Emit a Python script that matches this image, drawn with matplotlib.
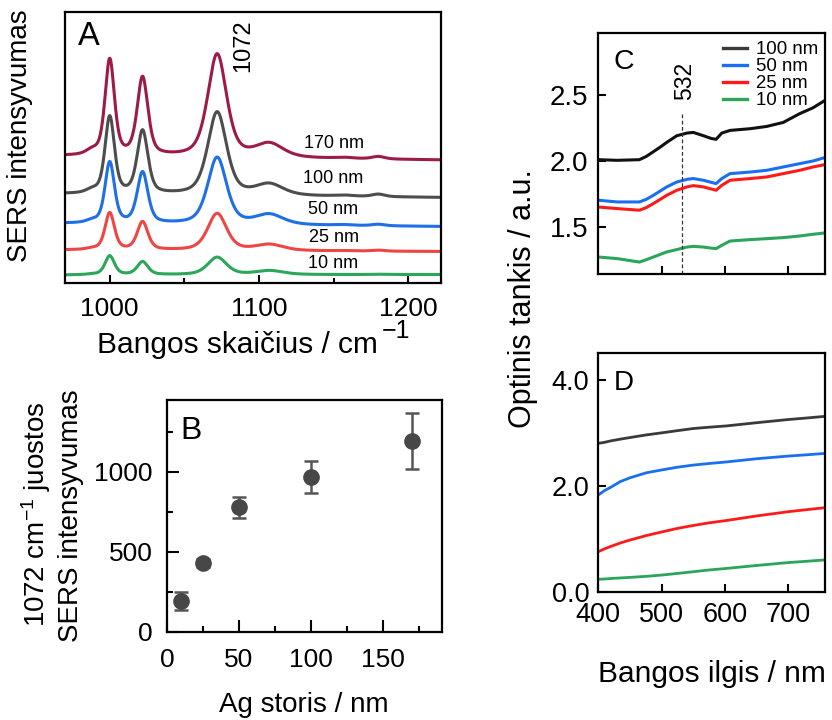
import numpy as np
import matplotlib
matplotlib.use("Agg")
import matplotlib.pyplot as plt
from matplotlib.ticker import MultipleLocator, FormatStrFormatter

plt.rcParams['font.family'] = ['Liberation Sans', 'DejaVu Sans']
plt.rcParams['mathtext.default'] = 'regular'

# ---------------- A: SERS spectra ----------------
thickness_labels = ["10 nm", "25 nm", "50 nm", "100 nm", "170 nm"]
spectra_colors = ["#2ca65a", "#f04545", "#1f6fe6", "#4d4d4d", "#9e1a48"]
# Raman bands (cm-1) and their widths (FWHM, cm-1)
band_centers = [988, 1000, 1022, 1072, 1107, 1157, 1180]
band_fwhm = [9, 7.5, 8.5, 15, 22, 14, 10]
# band heights above baseline for each film thickness (arb. units)
heights_10 = [0.5, 19, 13, 17.5, 4, 0.0, 0.3]
heights_25 = [1.0, 37, 28, 37, 6, 0.3, 1.0]
heights_50 = [2.0, 61, 51, 67, 10, 0.7, 1.5]
heights_100 = [3.0, 77, 63, 83, 11, 1.0, 2.5]
heights_170 = [4.0, 96, 78, 103, 13.5, 1.0, 2.5]
# stacked baselines (left end, right end)
baseline_left = [8, 33, 59.5, 89, 127]
baseline_right = [8.5, 31.5, 56.5, 85.5, 123]
label_y = [20, 46, 74, 105, 140]

# ---------------- B: 1072 band intensity ----------------
ag_thickness = [10, 25, 50, 100, 170]
band_intensity = [194, 427, 777, 969, 1194]
band_error = [57, 25, 65, 100, 175]

# ---------------- C: extinction, narrow range ----------------
wl_c = [400, 430, 465, 476, 487, 498, 508, 524, 540, 550, 566, 578, 586, 595, 608, 640, 666, 692, 718, 739, 758]
c_100 = [2.01, 2.005, 2.01, 2.035, 2.07, 2.105, 2.14, 2.19, 2.21, 2.215, 2.19, 2.17, 2.163, 2.21, 2.23, 2.243, 2.26, 2.29, 2.356, 2.40, 2.456]
c_50 = [1.705, 1.692, 1.692, 1.712, 1.742, 1.775, 1.805, 1.842, 1.862, 1.868, 1.855, 1.84, 1.83, 1.868, 1.905, 1.917, 1.93, 1.955, 1.98, 2.0, 2.026]
c_25 = [1.654, 1.642, 1.63, 1.65, 1.68, 1.712, 1.742, 1.78, 1.805, 1.815, 1.805, 1.79, 1.78, 1.817, 1.855, 1.868, 1.88, 1.905, 1.93, 1.955, 1.973]
c_10 = [1.278, 1.266, 1.24, 1.258, 1.278, 1.298, 1.316, 1.334, 1.353, 1.358, 1.353, 1.345, 1.341, 1.366, 1.398, 1.409, 1.416, 1.424, 1.436, 1.449, 1.459]

# ---------------- D: extinction, full scale ----------------
wl_d = [400, 410, 421, 435, 450, 476, 501, 525, 550, 575, 603, 650, 700, 730, 758]
d_100 = [2.80, 2.82, 2.85, 2.88, 2.91, 2.96, 3.00, 3.04, 3.08, 3.105, 3.13, 3.19, 3.25, 3.28, 3.31]
d_50 = [1.825, 1.91, 1.98, 2.08, 2.15, 2.245, 2.30, 2.35, 2.39, 2.42, 2.45, 2.51, 2.56, 2.585, 2.61]
d_25 = [0.755, 0.81, 0.86, 0.92, 0.975, 1.06, 1.13, 1.195, 1.25, 1.30, 1.345, 1.43, 1.51, 1.55, 1.585]
d_10 = [0.234, 0.24, 0.25, 0.26, 0.27, 0.29, 0.315, 0.345, 0.377, 0.41, 0.44, 0.495, 0.55, 0.575, 0.60]

series_labels = ["100 nm", "50 nm", "25 nm", "10 nm"]
c_colors = ["#111111", "#1a6ff0", "#ff1a1a", "#2aa55a"]
d_colors = ["#3a3a3a", "#1a6ff0", "#ff1a1a", "#2aa55a"]

fig = plt.figure(figsize=(8.32, 7.2), dpi=100)
axA = fig.add_axes([0.0781, 0.6069, 0.4519, 0.3764])
axB = fig.add_axes([0.2007, 0.1226, 0.3302, 0.3218])
axC = fig.add_axes([0.7191, 0.6194, 0.2725, 0.3343])
axD = fig.add_axes([0.7191, 0.1782, 0.2725, 0.3311])

for ax in (axA, axB, axC, axD):
    for s in ax.spines.values():
        s.set_linewidth(1.6)


def band_profile(x, center, fwhm, height, eta=0.5):
    g = np.exp(-4 * np.log(2) * ((x - center) / fwhm) ** 2)
    l = 1.0 / (1.0 + 4 * ((x - center) / fwhm) ** 2)
    return height * (eta * l + (1 - eta) * g)


wn = np.linspace(970, 1222, 1500)
all_heights = [heights_10, heights_25, heights_50, heights_100, heights_170]
for i, hts in enumerate(all_heights):
    base = baseline_left[i] + (baseline_right[i] - baseline_left[i]) * (wn - wn[0]) / (wn[-1] - wn[0])
    y = base.copy()
    for c, w, h in zip(band_centers, band_fwhm, hts):
        y += band_profile(wn, c, w, h)
    axA.plot(wn, y, color=spectra_colors[i], lw=2.2)
    axA.text(1150, label_y[i], thickness_labels[i], ha='center', va='center', fontsize=13)

axA.set_xlim(970, 1222)
axA.set_ylim(0, 271)
axA.set_yticks([])
axA.xaxis.set_major_locator(MultipleLocator(100))
axA.xaxis.set_minor_locator(MultipleLocator(50))
axA.tick_params(axis='x', which='major', direction='in', length=6, width=1.5, labelsize=19, pad=10)
axA.tick_params(axis='x', which='minor', direction='in', length=3.5, width=1.5)
axA.text(1089.5, 237, '1072', rotation=90, ha='center', va='center', fontsize=17)
axA.text(0.035, 0.878, 'A', transform=axA.transAxes, fontsize=23.5, ha='left', va='baseline')

fig.text(0.2855, 0.5097, 'Bangos skaičius / cm', ha='center', va='baseline', fontsize=21.5)
fig.text(0.4591, 0.5306, '\u22121', ha='left', va='baseline', fontsize=18)
fig.text(0.0319, 0.811, 'SERS intensyvumas', rotation=90, rotation_mode='anchor',
         ha='center', va='baseline', fontsize=20)

# ---------------- B ----------------
axB.errorbar(ag_thickness, band_intensity, yerr=band_error, fmt='o', ms=11,
             color='#474747', ecolor='#555555', elinewidth=1.8, capsize=5, capthick=1.8)
axB.set_xlim(0, 191)
axB.set_ylim(0, 1448)
axB.xaxis.set_major_locator(MultipleLocator(50))
axB.xaxis.set_minor_locator(MultipleLocator(25))
axB.yaxis.set_major_locator(MultipleLocator(500))
axB.yaxis.set_minor_locator(MultipleLocator(250))
axB.tick_params(axis='both', which='major', direction='in', length=8.5, width=1.5, labelsize=19)
axB.tick_params(axis='both', which='minor', direction='in', length=4.5, width=1.5)
axB.tick_params(axis='x', which='major', pad=12)
axB.tick_params(axis='y', which='major', pad=10.5)
axB.text(0.047, 0.832, 'B', transform=axB.transAxes, fontsize=23, ha='left', va='baseline')

fig.text(0.3646, 0.0115, 'Ag storis / nm', ha='center', va='baseline', fontsize=20)
fig.text(0.0541, 0.2861, '1072 cm$^{-1}$ juostos', rotation=90, rotation_mode='anchor',
         ha='center', va='baseline', fontsize=20)
fig.text(0.0938, 0.2833, 'SERS intensyvumas', rotation=90, rotation_mode='anchor',
         ha='center', va='baseline', fontsize=20)

# ---------------- C ----------------
for vals, col in zip([c_100, c_50, c_25, c_10], c_colors):
    axC.plot(wl_c, vals, color=col, lw=2.2, solid_joinstyle='round')
axC.plot([532, 532], [1.15, 2.37], color='#333333', lw=0.9, ls=(0, (3, 2)))
axC.text(537, 2.60, '532', rotation=90, ha='center', va='center', fontsize=16.5)
axC.set_xlim(400, 758)
axC.set_ylim(1.15, 2.96)
axC.set_xticks([500, 600, 700])
axC.set_yticks([1.5, 2.0, 2.5])
axC.yaxis.set_major_formatter(FormatStrFormatter('%.1f'))
axC.tick_params(axis='x', direction='in', length=5.5, width=1.5, labelbottom=False)
axC.tick_params(axis='y', direction='in', length=5.5, width=1.5, labelsize=20, pad=7)
axC.text(0.069, 0.850, 'C', transform=axC.transAxes, fontsize=20.5, ha='left', va='baseline')

# ---------------- D ----------------
d_lines = []
for vals, col, lab in zip([d_100, d_50, d_25, d_10], d_colors, series_labels):
    ln, = axD.plot(wl_d, vals, color=col, lw=2.0, label=lab, solid_joinstyle='round')
    d_lines.append(ln)
axD.set_xlim(400, 758)
axD.set_ylim(0, 4.5)
axD.set_xticks([400, 500, 600, 700])
axD.set_yticks([0, 2, 4])
axD.yaxis.set_major_formatter(FormatStrFormatter('%.1f'))
axD.tick_params(axis='both', direction='in', length=5.5, width=1.5, labelsize=19.5)
axD.tick_params(axis='x', pad=7.5)
axD.tick_params(axis='y', pad=6.5)
axD.text(0.069, 0.846, 'D', transform=axD.transAxes, fontsize=20, ha='left', va='baseline')

legC = axC.legend(handles=d_lines, loc='upper right', bbox_to_anchor=(0.985, 0.983),
                  frameon=False, fontsize=13.4, handlelength=1.3, handletextpad=0.45,
                  labelspacing=0.0, borderaxespad=0.0, borderpad=0.2)
for h in legC.legend_handles:
    h.set_linewidth(2.4)

fig.text(0.8554, 0.0532, 'Bangos ilgis / nm', ha='center', va='baseline', fontsize=21.5)
fig.text(0.6382, 0.5854, 'Optinis tankis / a.u.', rotation=90, rotation_mode='anchor',
         ha='center', va='baseline', fontsize=22)

fig.savefig('out.png', dpi=100)
